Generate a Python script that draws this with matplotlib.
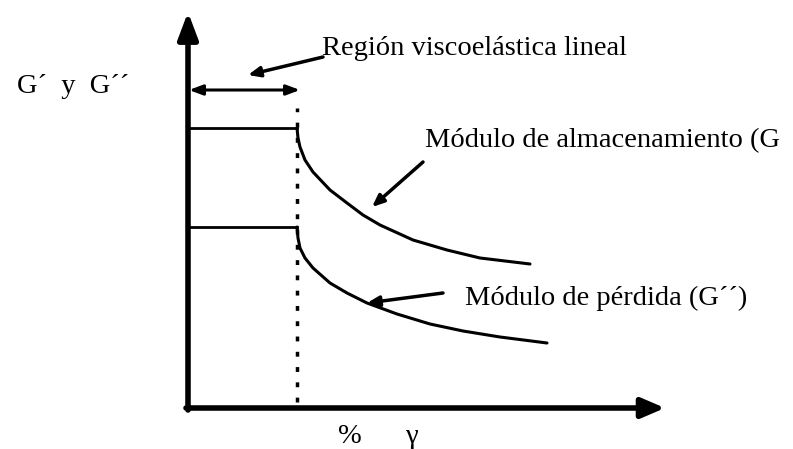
import matplotlib.pyplot as plt

# deformación (unidades arbitrarias, origen en el cruce de ejes)
x_plateau = [0, 109]
g_prime_plateau = 280
g_dprime_plateau = 181
lve_limit = 109

# caída de G' y G'' fuera de la región lineal
x_gp = [109, 110, 112, 117, 125, 142, 159, 175, 192, 225, 259, 292, 342]
y_gp = [280, 270, 261, 248, 236, 218, 205, 193, 183, 168, 158, 150, 144]
x_gpp = [109, 110, 112, 117, 125, 142, 159, 179, 209, 242, 275, 312, 359]
y_gpp = [181, 170, 160, 150, 140, 125, 115, 105, 94, 84, 77, 71, 65]

plt.rcParams['font.family'] = ['Liberation Serif', 'DejaVu Serif']
fs = 20.5

fig = plt.figure(figsize=(7.93, 4.49), dpi=100)
ax = fig.add_axes([0, 0, 1, 1])
ax.set_xlim(-188, 605)
ax.set_ylim(-41, 408)
ax.axis("off")

# ejes con flecha
ax.annotate("", xy=(0, 396), xytext=(0, -2),
            arrowprops=dict(arrowstyle="-|>,head_length=1.6,head_width=0.6",
                            lw=4, color="black", shrinkA=0, shrinkB=0))
ax.annotate("", xy=(477, 0), xytext=(-2, 0),
            arrowprops=dict(arrowstyle="-|>,head_length=1.4,head_width=0.6",
                            lw=4, color="black", shrinkA=0, shrinkB=0))

# mesetas y curvas
ax.plot(x_plateau, [g_prime_plateau] * 2, color="black", lw=2)
ax.plot(x_gp, y_gp, color="black", lw=2.2, solid_capstyle="round")
ax.plot(x_plateau, [g_dprime_plateau] * 2, color="black", lw=2)
ax.plot(x_gpp, y_gpp, color="black", lw=2.2, solid_capstyle="round")

# límite de la región lineal
ax.plot([lve_limit, lve_limit], [6, 300], color="black", lw=2.5, ls=(0, (1.4, 3)))
ax.annotate("", xy=(lve_limit + 3, 318), xytext=(1, 318),
            arrowprops=dict(arrowstyle="<|-|>,head_length=0.8,head_width=0.3",
                            lw=2.2, color="black", shrinkA=0, shrinkB=0))

# etiquetas con flecha
arrow = dict(arrowstyle="-|>,head_length=0.7,head_width=0.3", lw=2.5, color="black",
             shrinkA=0, shrinkB=0)
ax.annotate("", xy=(60, 333), xytext=(135, 351), arrowprops=arrow)
ax.text(134, 353, "Región viscoelástica lineal", fontsize=fs, va="baseline", ha="left")
ax.annotate("", xy=(184, 201), xytext=(235, 246), arrowprops=arrow)
ax.text(237, 261, "Módulo de almacenamiento (G", fontsize=fs, va="baseline", ha="left")
ax.annotate("", xy=(179, 105), xytext=(255, 115), arrowprops=arrow)
ax.text(277, 103, "Módulo de pérdida (G´´)", fontsize=fs, va="baseline", ha="left")

ax.text(-171, 315, "G´  y  G´´", fontsize=fs, va="baseline", ha="left")
ax.text(150, -35, "%", fontsize=fs, va="baseline", ha="left")
ax.text(218, -35, "γ", fontsize=fs, va="baseline", ha="left")

fig.savefig("out.png", dpi=100)
